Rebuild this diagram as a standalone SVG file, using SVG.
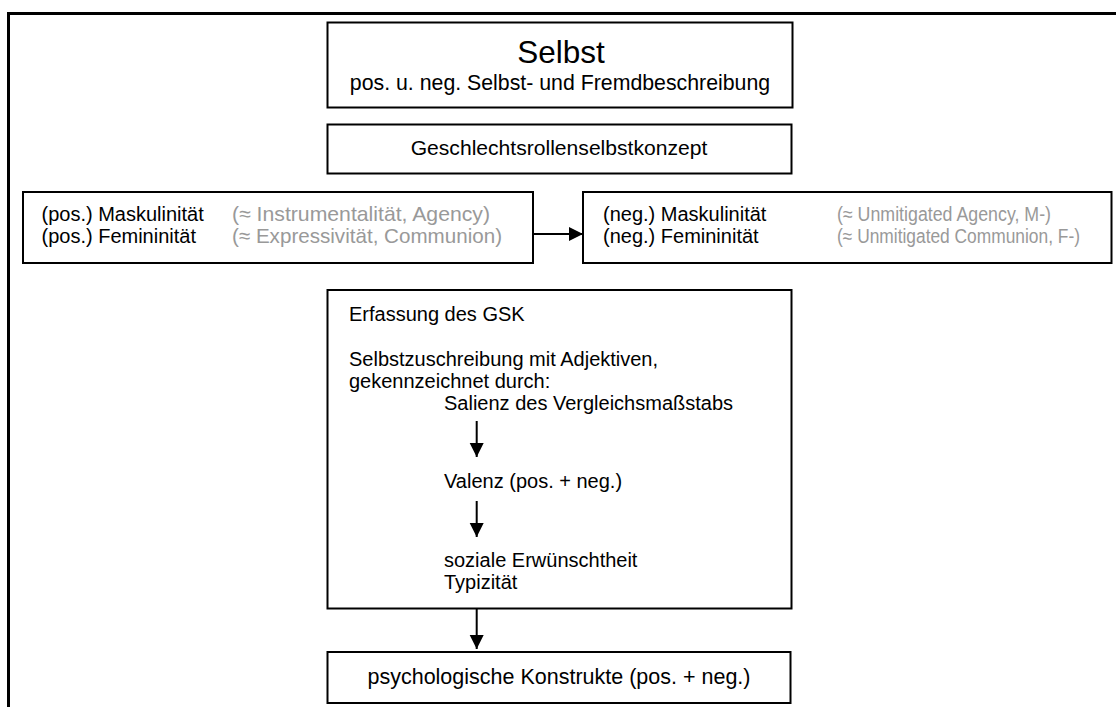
<svg xmlns="http://www.w3.org/2000/svg" width="1116" height="707" viewBox="0 0 1116 707">
<defs>
<style>
.box{fill:#fff;stroke:#000;stroke-width:2}
.t{font-family:"Liberation Sans",Arial,sans-serif;font-size:20px;fill:#000}
.g{fill:#999}
.c{text-anchor:middle}
.conn{stroke:#000;stroke-width:2;fill:none}
</style>
<marker id="ah" markerUnits="userSpaceOnUse" markerWidth="16" markerHeight="16" refX="14" refY="7" orient="auto" viewBox="0 0 16 14">
<path d="M0,0 L14,7 L0,14 z" fill="#000"/>
</marker>
</defs>
<rect width="1116" height="707" fill="#fff"/>
<rect id="frame" x="8.5" y="13.5" width="1200" height="800" fill="none" stroke="#000" stroke-width="3"/>
<g id="selbst">
<rect class="box" x="327.5" y="22.5" width="465" height="85"/>
<text class="t c" x="561" y="63" style="font-size:31.5px">Selbst</text>
<text class="t c" x="560" y="90" style="font-size:21.3px">pos. u. neg. Selbst- und Fremdbeschreibung</text>
</g>
<g id="gsk">
<rect class="box" x="327.5" y="124.5" width="464" height="49"/>
<text class="t c" x="559" y="155" style="font-size:21.1px">Geschlechtsrollenselbstkonzept</text>
</g>
<g id="pos">
<rect class="box" x="23" y="192" width="510" height="71"/>
<text class="t" x="41.5" y="221">(pos.) Maskulinität</text>
<text class="t g" x="232" y="221" style="font-size:20.6px" textLength="258" lengthAdjust="spacingAndGlyphs">(≈ Instrumentalität, Agency)</text>
<text class="t" x="41.5" y="243">(pos.) Femininität</text>
<text class="t g" x="232" y="243" style="font-size:20.6px" textLength="270" lengthAdjust="spacingAndGlyphs">(≈ Expressivität, Communion)</text>
</g>
<g id="neg">
<rect class="box" x="583" y="192" width="528.5" height="71"/>
<text class="t" x="603" y="221">(neg.) Maskulinität</text>
<text class="t g" x="837" y="221" textLength="214" lengthAdjust="spacingAndGlyphs">(≈ Unmitigated Agency, M-)</text>
<text class="t" x="603" y="243">(neg.) Femininität</text>
<text class="t g" x="837" y="243" textLength="243" lengthAdjust="spacingAndGlyphs">(≈ Unmitigated Communion, F-)</text>
</g>
<g id="erfassung">
<rect class="box" x="327.5" y="290" width="464" height="318.5"/>
<text class="t" x="349" y="321">Erfassung des GSK</text>
<text class="t" x="349" y="366">Selbstzuschreibung mit Adjektiven,</text>
<text class="t" x="349" y="388">gekennzeichnet durch:</text>
<text class="t" x="444" y="410">Salienz des Vergleichsmaßstabs</text>
<text class="t" x="444" y="488">Valenz (pos. + neg.)</text>
<text class="t" x="444" y="567">soziale Erwünschtheit</text>
<text class="t" x="444" y="589">Typizität</text>
</g>
<g id="konstrukte">
<rect class="box" x="327.5" y="652" width="463" height="51"/>
<text class="t c" x="559" y="684" style="font-size:21.5px">psychologische Konstrukte (pos. + neg.)</text>
</g>
<g id="connectors">
<line class="conn" x1="533" y1="234" x2="583" y2="234" marker-end="url(#ah)"/>
<line class="conn" x1="476.7" y1="421" x2="476.7" y2="457" marker-end="url(#ah)"/>
<line class="conn" x1="476.7" y1="501" x2="476.7" y2="537" marker-end="url(#ah)"/>
<line class="conn" x1="476.7" y1="609" x2="476.7" y2="649" marker-end="url(#ah)"/>
</g>
</svg>
